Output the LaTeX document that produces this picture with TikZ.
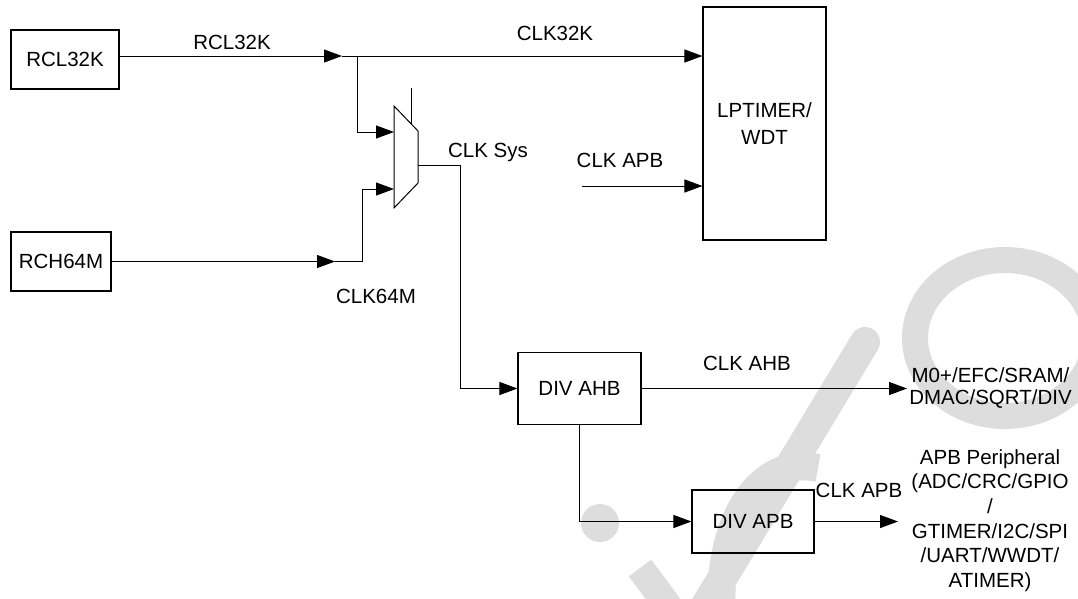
\documentclass[tikz,border=0pt]{standalone}
\usepackage{fontspec}
\setmainfont{Liberation Sans}
\usetikzlibrary{arrows.meta}
\definecolor{wmc}{RGB}{221,221,221}
\begin{document}
\begin{tikzpicture}[x=1pt,y=-1pt,
  every node/.style={font=\fontsize{20.5}{24}\selectfont, inner sep=0pt},
  box/.style={draw, line width=1.1pt, align=center},
  lbl/.style={text height=14.7pt, text depth=0pt},
  wire/.style={line width=1pt},
  arr/.style={wire, -{Triangle[length=18pt,width=13pt]}}]
\useasboundingbox (0,0) rectangle (1078,598);

% watermark
\draw[wmc, line width=26pt] (1005,338) ellipse [x radius=90, y radius=78];
\draw[wmc, line width=30pt, line cap=round] (865,342) -- (700,615);
\draw[wmc, line width=28pt] (722,615) .. controls (716,520) and (760,455) .. (818,468);
\fill[wmc] (600,523) circle (19);
\draw[wmc, line width=28pt] (640,568) -- (675,615);

% blocks
\node[box, minimum width=108pt, minimum height=59pt] (rcl) at (65,59.5) {RCL32K};
\node[box, minimum width=100pt, minimum height=59pt] (rch) at (61,261.5) {RCH64M};
\node[box, minimum width=123pt, minimum height=233pt, font=\fontsize{20.5}{27}\selectfont] (lp) at (764.5,123.5) {LPTIMER/\\WDT};
\node[box, minimum width=123pt, minimum height=72pt] (ahb) at (579.5,388.5) {DIV AHB};
\node[box, minimum width=122pt, minimum height=63pt] (apb) at (753,521.5) {DIV APB};

% mux
\coordinate (mtl) at (394,106);
\coordinate (mtr) at (418,131);
\coordinate (mbr) at (418,183);
\coordinate (mbl) at (394,208);
\draw[wire] (mtl) -- (mtr) -- (mbr) -- (mbl) -- cycle;
\coordinate (msel) at (411.5,88);
\coordinate (mselend) at (411.5,124.2);
\draw[wire] (msel) -- (mselend);
\coordinate (min1) at (394,132);
\coordinate (min2) at (394,189);
\coordinate (mout) at (418,165);

% connectors
\coordinate (a1) at (342,56);
\coordinate (b1) at (357,56);
\draw[arr] (rcl.east |- a1) -- (a1);
\draw[arr] (a1) -- (lp.west |- a1);
\draw[arr] (b1) |- (min1);
\coordinate (a2) at (335,261.5);
\coordinate (b2) at (362,261.5);
\draw[arr] (rch.east) -- (a2);
\draw[arr] (a2) -- (b2) |- (min2);
\coordinate (c1) at (460,165);
\draw[arr] (mout) -- (c1) |- (ahb.west);
\coordinate (ca) at (582,186);
\draw[arr] (ca) -- (lp.west |- ca);
\coordinate (m0) at (907,388.5);
\draw[arr] (ahb.east) -- (m0);
\draw[arr] (ahb.south) |- (apb.west);
\coordinate (pp) at (898,521.5);
\draw[arr] (apb.east) -- (pp);

% labels
\node[lbl] (lrcl) at (232,42) {RCL32K};
\node[lbl] (l32k) at (555,33) {CLK32K};
\node[lbl] (lsys) at (488,150) {CLK Sys};
\node[lbl] (lapb1) at (620,160) {CLK APB};
\node[lbl] (l64m) at (376,296) {CLK64M};
\node[lbl] (lahb) at (747,363) {CLK AHB};
\node[lbl] (lapb2) at (859,490) {CLK APB};
\node[align=center, font=\fontsize{20.5}{22}\selectfont] (tm0) at (990.5,388) {M0+/EFC/SRAM/\\DMAC/SQRT/DIV};
\node[align=center, font=\fontsize{20.5}{24.7}\selectfont] (tapb) at (990,520.5) {APB Peripheral\\(ADC/CRC/GPIO\\/\\GTIMER/I2C/SPI\\/UART/WWDT/\\ATIMER)};
\end{tikzpicture}
\end{document}
